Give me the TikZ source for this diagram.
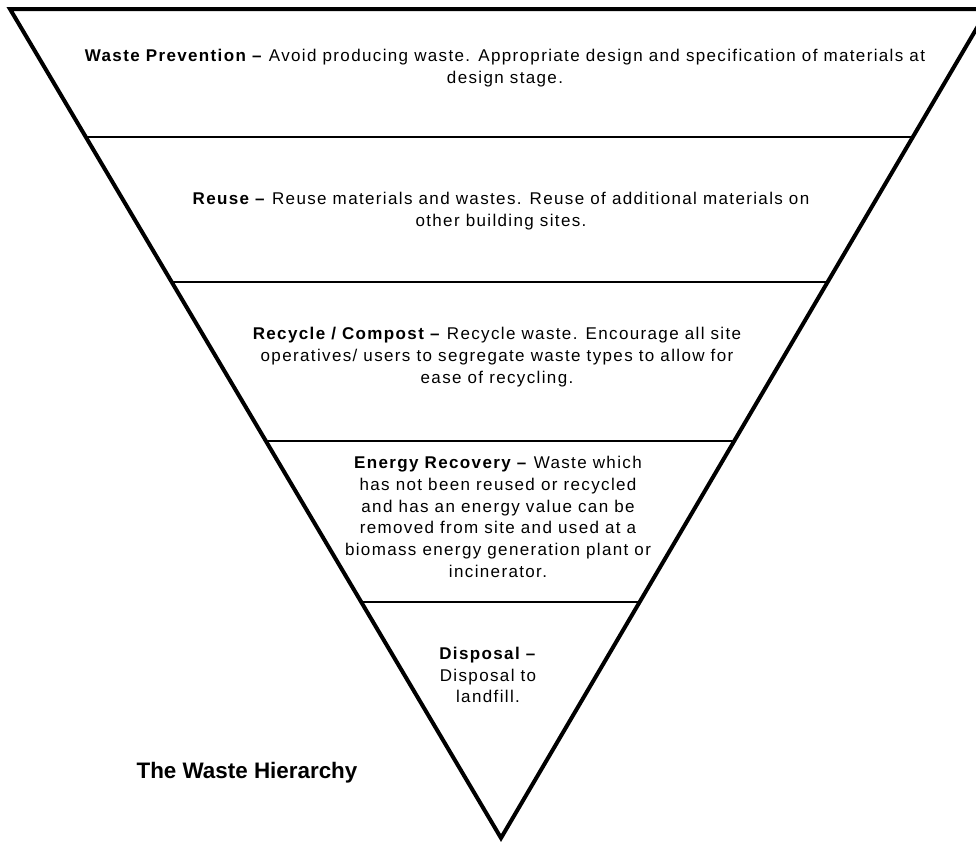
\documentclass[tikz,border=0pt]{standalone}
\usepackage{fontspec}
\setmainfont{Liberation Sans}
\newfontfamily\levelfont{Liberation Sans}[LetterSpace=8]
\usetikzlibrary{calc}

\tikzstyle{level} = [align=center,font=\levelfont\fontsize{17}{21.7}\selectfont,inner sep=0pt]
\tikzstyle{divider} = [line width=2.2pt]

\begin{document}
\begin{tikzpicture}[x=1pt,y=-1pt]
	\useasboundingbox (0,0) rectangle (976,841);
	\coordinate (tl) at (10,9);
	\coordinate (tr) at (988,9);
	\coordinate (apex) at (501,838);
	\draw [line width=4pt,line join=miter] (tl) -- (tr) -- (apex) -- cycle;
	\draw [divider] ($(tl)!0.1544!(apex)$) -- ($(tr)!0.1544!(apex)$);
	\draw [divider] ($(tl)!0.3293!(apex)$) -- ($(tr)!0.3293!(apex)$);
	\draw [divider] ($(tl)!0.5211!(apex)$) -- ($(tr)!0.5211!(apex)$);
	\draw [divider] ($(tl)!0.7153!(apex)$) -- ($(tr)!0.7153!(apex)$);
	\node (prevention) [level] at (505,68) {\textbf{Waste Prevention –} Avoid producing waste. Appropriate design and specification of materials at\\design stage.};
	\node (reuse) [level] at (501,211) {\textbf{Reuse –} Reuse materials and wastes. Reuse of additional materials on\\other building sites.};
	\node (recycle) [level] at (497,357) {\textbf{Recycle / Compost –} Recycle waste. Encourage all site\\operatives/ users to segregate waste types to allow for\\ease of recycling.};
	\node (recovery) [level] at (498,517) {\textbf{Energy Recovery –} Waste which\\has not been reused or recycled\\and has an energy value can be\\removed from site and used at a\\biomass energy generation plant or\\incinerator.};
	\node (disposal) [level] at (488,675) {\textbf{Disposal –}\\Disposal to\\landfill.};
	\node (title) [font=\fontsize{22.4}{26}\selectfont\bfseries,inner sep=0pt] at (247,773) {The Waste Hierarchy};
\end{tikzpicture}
\end{document}
